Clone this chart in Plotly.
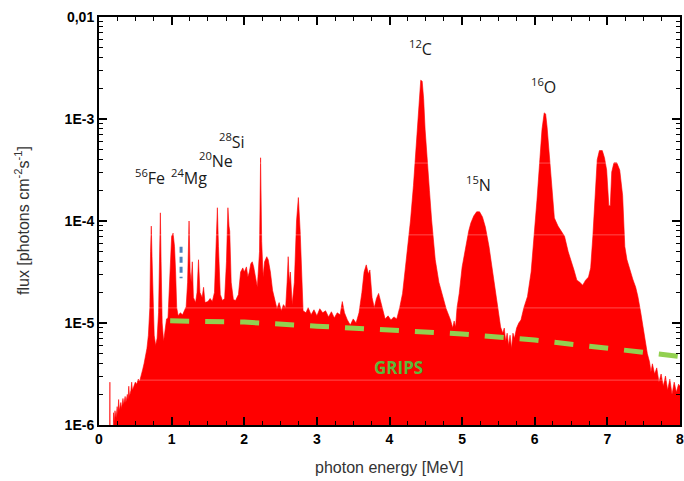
import plotly.graph_objects as go

# ---- data (energy in MeV, log10 of flux) ----
energy = [0.13,0.145,0.15,0.155,0.19,0.20,0.21,0.22,0.235,0.25,0.26,0.27,0.28,0.30,0.31,0.33,0.34,0.36,0.37,0.39,0.40,0.41,0.42,0.44,0.45,0.46,0.48,0.50,0.52,0.54,0.56,0.58,0.60,0.62,0.64,0.66,0.68,0.70,0.71,0.72,0.73,0.745,0.76,0.78,0.80,0.82,0.835,0.845,0.855,0.87,0.89,0.91,0.93,0.95,0.97,0.985,1.00,1.02,1.04,1.055,1.07,1.09,1.12,1.15,1.18,1.20,1.22,1.24,1.255,1.27,1.285,1.30,1.33,1.35,1.37,1.39,1.42,1.44,1.46,1.50,1.53,1.56,1.59,1.615,1.63,1.645,1.67,1.70,1.73,1.755,1.775,1.79,1.80,1.82,1.85,1.88,1.92,1.95,1.98,2.00,2.03,2.05,2.07,2.09,2.11,2.13,2.15,2.18,2.21,2.225,2.24,2.26,2.28,2.31,2.33,2.36,2.39,2.42,2.45,2.48,2.51,2.54,2.57,2.59,2.605,2.62,2.635,2.66,2.69,2.72,2.745,2.77,2.79,2.81,2.85,2.88,2.92,2.96,3.00,3.04,3.08,3.12,3.16,3.20,3.24,3.28,3.32,3.35,3.38,3.42,3.46,3.50,3.54,3.58,3.62,3.65,3.68,3.71,3.73,3.76,3.79,3.82,3.85,3.88,3.91,3.94,3.98,4.02,4.06,4.10,4.14,4.18,4.22,4.26,4.29,4.33,4.36,4.39,4.41,4.43,4.45,4.47,4.49,4.51,4.55,4.58,4.63,4.68,4.73,4.78,4.84,4.87,4.89,4.91,4.93,4.96,5.00,5.05,5.09,5.12,5.16,5.20,5.24,5.28,5.32,5.37,5.42,5.47,5.51,5.53,5.56,5.58,5.60,5.62,5.64,5.66,5.68,5.70,5.72,5.75,5.78,5.81,5.85,5.90,5.95,5.99,6.03,6.07,6.10,6.13,6.15,6.17,6.20,6.24,6.27,6.32,6.37,6.41,6.46,6.50,6.54,6.58,6.62,6.66,6.70,6.74,6.77,6.80,6.82,6.84,6.86,6.89,6.93,6.96,6.99,7.02,7.04,7.06,7.09,7.13,7.17,7.21,7.24,7.27,7.31,7.35,7.39,7.42,7.46,7.49,7.52,7.55,7.58,7.60,7.62,7.65,7.68,7.71,7.74,7.77,7.80,7.83,7.86,7.89,7.92,7.95,7.98,8.0]
log_flux = [-6.6,-6.6,-5.58,-6.6,-6.6,-5.88,-5.97,-5.86,-5.93,-5.82,-5.9,-5.75,-5.86,-5.78,-5.84,-5.74,-5.8,-5.72,-5.78,-5.70,-5.75,-5.62,-5.72,-5.66,-5.58,-5.66,-5.62,-5.58,-5.6,-5.55,-5.57,-5.50,-5.46,-5.40,-5.33,-5.25,-5.12,-4.85,-4.3,-4.05,-4.35,-4.9,-5.12,-5.22,-5.15,-4.9,-4.3,-3.92,-4.4,-5.0,-5.18,-5.05,-4.96,-4.95,-4.6,-4.3,-4.15,-4.12,-4.25,-4.5,-4.85,-4.93,-4.9,-4.92,-4.86,-4.84,-4.6,-4.0,-4.5,-4.6,-4.4,-4.75,-4.8,-4.7,-4.38,-4.7,-4.75,-4.65,-4.8,-4.79,-4.76,-4.79,-4.7,-4.2,-3.87,-4.25,-4.72,-4.78,-4.76,-4.4,-3.87,-4.05,-4.1,-4.6,-4.77,-4.78,-4.72,-4.5,-4.46,-4.5,-4.45,-4.55,-4.50,-4.42,-4.40,-4.45,-4.55,-4.65,-4.3,-3.38,-4.2,-4.55,-4.40,-4.35,-4.38,-4.5,-4.68,-4.78,-4.86,-4.8,-4.88,-4.82,-4.85,-4.6,-4.35,-4.6,-4.5,-4.82,-4.6,-4.0,-3.77,-4.1,-4.6,-4.88,-4.9,-4.85,-4.92,-4.87,-4.93,-4.86,-4.9,-4.88,-4.94,-4.89,-4.95,-4.9,-4.92,-4.79,-4.9,-4.97,-5.02,-4.96,-5.0,-4.9,-4.7,-4.5,-4.43,-4.52,-4.48,-4.75,-4.85,-4.76,-4.71,-4.8,-4.9,-4.96,-4.93,-4.97,-4.94,-4.96,-4.85,-4.71,-4.45,-4.2,-3.99,-3.65,-3.34,-2.98,-2.75,-2.62,-2.63,-2.8,-3.1,-3.34,-3.7,-3.99,-4.38,-4.6,-4.74,-4.86,-4.97,-5.05,-4.98,-5.04,-4.85,-4.71,-4.45,-4.25,-4.1,-4.02,-3.95,-3.91,-3.91,-3.96,-4.06,-4.25,-4.51,-4.75,-4.95,-5.04,-5.1,-5.05,-5.18,-5.1,-5.22,-5.12,-5.25,-5.1,-5.15,-5.05,-5.0,-4.97,-4.85,-4.74,-4.5,-4.19,-3.8,-3.40,-3.1,-2.94,-2.95,-3.08,-3.34,-3.75,-3.97,-4.05,-4.1,-4.15,-4.3,-4.38,-4.48,-4.58,-4.6,-4.63,-4.58,-4.55,-4.46,-4.15,-3.92,-3.62,-3.40,-3.31,-3.31,-3.38,-3.50,-3.85,-3.85,-3.52,-3.43,-3.43,-3.5,-3.75,-4.25,-4.38,-4.48,-4.57,-4.65,-4.74,-4.9,-5.04,-5.18,-5.30,-5.38,-5.48,-5.4,-5.5,-5.44,-5.58,-5.5,-5.62,-5.52,-5.66,-5.55,-5.7,-5.58,-5.68,-5.6,-5.62]
flux = [10 ** v for v in log_flux]

grips_energy = [0.98, 2.0, 3.0, 4.0, 5.0, 6.0, 7.0, 8.0]
grips_flux = [1.05e-5, 1.02e-5, 9.3e-6, 8.5e-6, 7.8e-6, 6.8e-6, 5.6e-6, 4.7e-6]

marker_energy = [1.13, 1.13]
marker_flux = [5.6e-5, 2.75e-5]

labels = ["<sup>56</sup>Fe", "<sup>24</sup>Mg", "<sup>20</sup>Ne", "<sup>28</sup>Si",
          "<sup>12</sup>C", "<sup>16</sup>O", "<sup>15</sup>N"]
label_x = [0.70, 1.24, 1.61, 1.83, 4.43, 6.12, 5.23]
label_logy = [-3.57, -3.57, -3.40, -3.22, -2.30, -2.68, -3.64]

x_ticks = [0, 1, 2, 3, 4, 5, 6, 7, 8]
y_ticks = [1e-6, 1e-5, 1e-4, 1e-3, 1e-2]
y_ticktext = ["1E-6", "1E-5", "1E-4", "1E-3", "0,01"]

fig = go.Figure()
fig.add_trace(go.Scatter(x=energy, y=flux, mode="lines", fill="tozeroy",
                         line=dict(color="#ff0000", width=0.6),
                         fillcolor="#ff0000", hoverinfo="skip"))
fig.add_trace(go.Scatter(x=grips_energy, y=grips_flux, mode="lines",
                         line=dict(color="#92d050", width=5, dash="19px,16px"),
                         hoverinfo="skip"))
fig.add_trace(go.Scatter(x=marker_energy, y=marker_flux, mode="lines",
                         line=dict(color="#4f81bd", width=3, dash="6px,4px"),
                         hoverinfo="skip"))
# invisible trace that carries the mirrored (top / right) tick axes
fig.add_trace(go.Scatter(x=grips_energy, y=grips_flux, mode="lines",
                         line=dict(width=0, color="rgba(0,0,0,0)"),
                         xaxis="x2", yaxis="y2", hoverinfo="skip"))

for t, xv, yv in zip(labels, label_x, label_logy):
    fig.add_annotation(x=xv, y=yv, text=t, showarrow=False,
                       font=dict(family="Open Sans", size=16, color="#1a1a1a"))

fig.add_annotation(x=4.12, y=-5.44, text="<b>GRIPS</b>", showarrow=False,
                   font=dict(family="Open Sans", size=17, color="#5cb83a"))

fig.add_annotation(xref="paper", yref="paper", x=0.5, y=-0.105,
                   xanchor="center", yanchor="middle",
                   text="photon energy [MeV]", showarrow=False,
                   font=dict(family="Liberation Sans", size=16, color="#333333"))
fig.add_annotation(xref="paper", yref="paper", x=-0.1325, y=0.5, textangle=-90,
                   xanchor="center", yanchor="middle",
                   text="flux [photons cm<sup>-2</sup>s<sup>-1</sup>]", showarrow=False,
                   font=dict(family="Liberation Sans", size=16, color="#333333"))

# faint pale lines that cross the red area in the reference
for yp in [0.642, 0.466, 0.287, 0.110]:
    fig.add_shape(type="line", xref="paper", yref="paper", x0=0, x1=1, y0=yp, y1=yp,
                  line=dict(color="rgba(255,255,255,0.3)", width=1), layer="above")

minor_y = [m * 10.0 ** e for e in range(-6, -2) for m in range(2, 10)]

tick_common = dict(ticks="inside", ticklen=8, tickwidth=1.5, tickcolor="black",
                   showline=True, linewidth=2, linecolor="black",
                   showgrid=False, zeroline=False, automargin=False)
xminor = dict(dtick=0.25, ticks="inside", ticklen=4, tickwidth=1.2,
              tickcolor="black", showgrid=False)
yminor = dict(tickmode="array", tickvals=minor_y, ticks="inside",
              ticklen=4, tickwidth=1.2, tickcolor="black", showgrid=False)

fig.update_layout(
    width=684, height=481,
    margin=dict(l=99, r=4, t=17, b=56),
    plot_bgcolor="white", paper_bgcolor="white",
    showlegend=False,
    xaxis=dict(range=[0, 8], tickmode="array", tickvals=x_ticks,
               ticktext=[f"<b>{v}</b>" for v in x_ticks],
               tickfont=dict(family="Liberation Sans", size=14, color="black"),
               ticklabeloverflow="allow",
               minor=xminor, **tick_common),
    yaxis=dict(type="log", range=[-6, -2], tickmode="array", tickvals=y_ticks,
               ticktext=[f"<b>{s}</b>" for s in y_ticktext],
               tickfont=dict(family="Liberation Sans", size=14, color="black"),
               minor=yminor, **tick_common),
    xaxis2=dict(range=[0, 8], overlaying="x", side="top", anchor="y2",
                tickmode="array", tickvals=x_ticks, showticklabels=False,
                minor=xminor, **tick_common),
    yaxis2=dict(type="log", range=[-6, -2], overlaying="y", side="right", anchor="x2",
                tickmode="array", tickvals=y_ticks, showticklabels=False,
                minor=yminor, **tick_common),
)

fig.write_html("out.html",
               config={"displayModeBar": False},
               post_script="document.body.style.margin='0px';"
                           "document.body.style.overflow='hidden';")
